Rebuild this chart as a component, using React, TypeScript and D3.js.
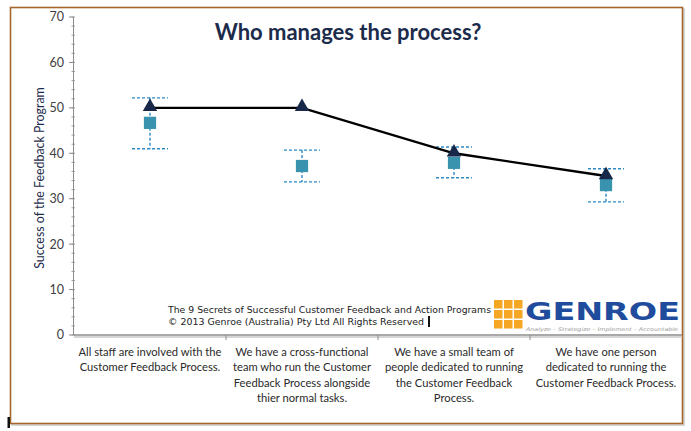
import React from "react";
import * as d3 from "d3";

const categories = [
  ["All staff are involved with the", "Customer Feedback Process."],
  ["We have a cross-functional", "team who run the Customer", "Feedback Process alongside", "thier normal tasks."],
  ["We have a small team of", "people dedicated to running", "the Customer Feedback", "Process."],
  ["We have one person", "dedicated to running the", "Customer Feedback Process."],
];
const catKeys = ["c1", "c2", "c3", "c4"];
const lineValues = [50, 50, 40, 35];
const meanValues = [46.7, 37.2, 37.9, 33.0];
const errUpper = [52.2, 40.7, 41.4, 36.6];
const errLower = [41.0, 33.7, 34.6, 29.3];
const yTicks = [0, 10, 20, 30, 40, 50, 60, 70];
const yMinorTicks = d3.range(0, 71, 2);

const W = 691;
const H = 431;

export default function App() {
  const x = d3.scaleBand<string>().domain(catKeys).range([74, 682]);
  const y = d3.scaleLinear().domain([0, 70]).range([335, 17]);
  const cx = (i: number) => (x(catKeys[i]) as number) + x.bandwidth() / 2;

  const line = d3
    .line<number>()
    .x((_, i) => cx(i))
    .y((d) => y(d));

  const tri = d3.symbol().type(d3.symbolTriangle).size(90)() as string;
  const sq = d3.symbol().type(d3.symbolSquare).size(150)() as string;

  const font = "Lato, 'Open Sans', sans-serif";
  const errColor = "#2E8BC9";
  const wm = "'DejaVu Sans', Verdana, sans-serif";

  return (
    <svg
      width={W}
      height={H}
      style={{ position: "absolute", left: 0, top: 0, background: "#fff" }}
    >
      {/* frame */}
      <rect x={12} y={9} width={672} height={416} fill="none" stroke="#C9C9C9" strokeWidth={1.5} />
      <rect x={10.5} y={7.5} width={672} height={416} fill="#fff" stroke="#A5662E" strokeWidth={1.6} />
      <rect x={7.5} y={417} width={2.5} height={11} fill="#111" />

      {/* title */}
      <text x={348} y={40} textAnchor="middle" fontFamily={font} fontWeight={700} fontSize={22} fill="#1C2B4B">
        Who manages the process?
      </text>

      {/* y axis */}
      <line x1={73.5} x2={73.5} y1={y(70)} y2={y(0)} stroke="#8C8C8C" strokeWidth={1} />
      {yMinorTicks.map((t) => (
        <line key={"m" + t} x1={71.5} x2={75} y1={y(t)} y2={y(t)} stroke="#8C8C8C" strokeWidth={0.8} />
      ))}
      {yTicks.map((t) => (
        <g key={t}>
          <line x1={69} x2={73.5} y1={y(t)} y2={y(t)} stroke="#8C8C8C" strokeWidth={1} />
          <text x={64} y={y(t)} dy="0.35em" textAnchor="end" fontFamily={font} fontSize={12.5} fill="#404040">
            {t}
          </text>
        </g>
      ))}
      <text
        transform={`translate(44,${(y(70) + y(0)) / 2 + 2}) rotate(-90)`}
        textAnchor="middle"
        fontFamily={font}
        fontSize={12.4}
        fill="#1C2B4B"
      >
        Success of the Feedback Program
      </text>

      {/* x axis */}
      <line x1={74} x2={682} y1={y(0) + 2} y2={y(0) + 2} stroke="#D5D5D5" strokeWidth={2} />
      <line x1={74} x2={682} y1={y(0)} y2={y(0)} stroke="#8C8C8C" strokeWidth={1.6} />
      {catKeys.slice(1).map((k) => (
        <line key={k} x1={x(k) as number} x2={x(k) as number} y1={y(0)} y2={y(0) + 5} stroke="#8C8C8C" strokeWidth={1} />
      ))}
      {categories.map((lines, i) => (
        <text key={i} textAnchor="middle" fontFamily={font} fontSize={11.2} fill="#2A2A2A">
          {lines.map((l, j) => (
            <tspan key={j} x={cx(i)} y={356 + j * 15.3}>
              {l}
            </tspan>
          ))}
        </text>
      ))}

      {/* watermark text */}
      <text x={168} y={313} fontFamily={wm} fontSize={8.8} fill="#222" textLength={323} lengthAdjust="spacingAndGlyphs">
        The 9 Secrets of Successful Customer Feedback and Action Programs
      </text>
      <text x={168} y={325} fontFamily={wm} fontSize={8.8} fill="#222" textLength={256} lengthAdjust="spacingAndGlyphs">
        © 2013 Genroe (Australia) Pty Ltd All Rights Reserved
      </text>
      <rect x={428} y={316} width={2} height={11} fill="#111" />

      {/* logo */}
      {d3.range(3).map((r) =>
        d3.range(3).map((c) => (
          <rect key={`${r}-${c}`} x={494 + c * 10} y={300 + r * 10} width={8.5} height={8.5} fill="#F5A623" />
        ))
      )}
      <text x={525} y={320} fontFamily={wm} fontWeight={700} fontSize={24} fill="#1F4C9C" textLength={155} lengthAdjust="spacingAndGlyphs">
        GENROE
      </text>
      <text x={526} y={331} fontFamily={wm} fontStyle="italic" fontSize={5} fill="#9A9A9A" textLength={152} lengthAdjust="spacingAndGlyphs">
        Analyze – Strategize – Implement – Accountable
      </text>

      {/* error bars */}
      {meanValues.map((_, i) => (
        <g key={"e" + i} stroke={errColor} strokeWidth={1.4} strokeDasharray="3,2" fill="none">
          <line x1={cx(i)} x2={cx(i)} y1={y(errUpper[i])} y2={y(errLower[i])} />
          <line x1={cx(i) - 18} x2={cx(i) + 18} y1={y(errUpper[i])} y2={y(errUpper[i])} />
          <line x1={cx(i) - 18} x2={cx(i) + 18} y1={y(errLower[i])} y2={y(errLower[i])} />
        </g>
      ))}

      {/* squares */}
      {meanValues.map((v, i) => (
        <path key={"s" + i} d={sq} transform={`translate(${cx(i)},${y(v)})`} fill="#3A93AE" />
      ))}

      {/* line */}
      <path d={line(lineValues) as string} fill="none" stroke="#000" strokeWidth={2.4} />
      {lineValues.map((v, i) => (
        <path key={"t" + i} d={tri} transform={`translate(${cx(i)},${y(v) - 1})`} fill="#172848" />
      ))}
    </svg>
  );
}
